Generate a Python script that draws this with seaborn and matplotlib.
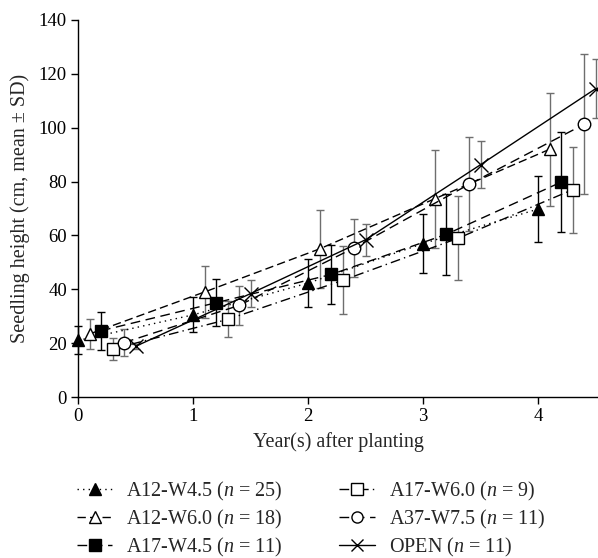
import matplotlib
matplotlib.use("Agg")
import matplotlib.pyplot as plt
import seaborn as sns
import pandas as pd
import numpy as np
from matplotlib.lines import Line2D

# ---- data ----
years = [0, 1, 2, 3, 4]
series_names = ["A12-W4.5", "A12-W6.0", "A17-W4.5", "A17-W6.0", "A37-W7.5", "OPEN"]
series_n = [25, 18, 11, 9, 11, 11]

a12_w45_mean = [21.0, 30.5, 42.3, 57.0, 69.8]
a12_w45_sd = [5.2, 6.5, 8.8, 11.0, 12.3]
a12_w60_mean = [23.4, 39.0, 55.0, 73.6, 92.0]
a12_w60_sd = [5.6, 9.8, 14.5, 18.3, 21.0]
a17_w45_mean = [24.6, 35.0, 45.5, 60.4, 79.8]
a17_w45_sd = [7.0, 8.7, 11.0, 15.0, 18.6]
a17_w60_mean = [17.8, 28.8, 43.3, 58.9, 77.0]
a17_w60_sd = [4.2, 6.7, 12.6, 15.6, 16.0]
a37_w75_mean = [20.2, 34.0, 55.4, 79.0, 101.3]
a37_w75_sd = [5.1, 7.4, 10.8, 17.5, 26.0]
open_mean = [18.8, 38.4, 58.4, 86.3, 114.5]
open_sd = [1.0, 5.0, 6.0, 8.7, 11.0]

means = [a12_w45_mean, a12_w60_mean, a17_w45_mean, a17_w60_mean, a37_w75_mean, open_mean]
sds = [a12_w45_sd, a12_w60_sd, a17_w45_sd, a17_w60_sd, a37_w75_sd, open_sd]

x_ticks = [0, 1, 2, 3, 4]
y_ticks = [0, 20, 40, 60, 80, 100, 120, 140]

# ---- styles ----
dodge_step = 0.1
styles = [
    dict(marker="^", mfc="black", ls=(0, (1, 3)), ms=9, ecol="black"),
    dict(marker="^", mfc="white", ls=(0, (6, 3)), ms=9, ecol="#6e6e6e"),
    dict(marker="s", mfc="black", ls=(0, (7, 4)), ms=9, ecol="black"),
    dict(marker="s", mfc="white", ls=(0, (7, 3, 1, 3)), ms=9, ecol="#6e6e6e"),
    dict(marker="o", mfc="white", ls=(0, (7, 4)), ms=9, ecol="#6e6e6e"),
    dict(marker="x", mfc="black", ls="-", ms=10, ecol="#6e6e6e"),
]

sns.set_theme(style="ticks")
plt.rcParams["font.family"] = ["Liberation Serif", "DejaVu Serif"]
plt.rcParams["mathtext.fontset"] = "custom"
plt.rcParams["mathtext.it"] = "Liberation Serif:italic"
plt.rcParams["mathtext.rm"] = "Liberation Serif"

fig = plt.figure(figsize=(5.98, 5.58), dpi=100)
ax = fig.add_axes([78 / 598, 161 / 558, 520 / 598, 377 / 558])

rows = []
for i, name in enumerate(series_names):
    for y, m, s in zip(years, means[i], sds[i]):
        rows.append(dict(series=name, x=y + i * dodge_step, mean=m, sd=s))
df = pd.DataFrame(rows)

handles = []
for i, name in enumerate(series_names):
    st = styles[i]
    sub = df[df.series == name]
    ax.errorbar(sub.x, sub["mean"], yerr=sub.sd, fmt="none", ecolor=st["ecol"],
                elinewidth=1.0, capsize=3, capthick=1.0, zorder=2, clip_on=False)
    sns.lineplot(data=sub, x="x", y="mean", ax=ax, color="black", linewidth=1.0,
                 linestyle=st["ls"], marker=st["marker"], markersize=st["ms"],
                 markerfacecolor=st["mfc"], markeredgecolor="black", markeredgewidth=1.0,
                 zorder=3, legend=False, clip_on=False)
    handles.append(Line2D([], [], color="black", lw=1.0, ls=st["ls"], marker=st["marker"],
                          ms=st["ms"] - 1, mfc=st["mfc"], mec="black", mew=1.0,
                          label=f"{name} ($n$ = {series_n[i]})"))

ax.set_xlim(0, 4.52)
ax.set_ylim(0, 140)
ax.set_xticks(x_ticks)
ax.set_yticks(y_ticks)
ax.tick_params(axis="both", direction="out", length=5, width=1, labelsize=13.5,
               colors="black", pad=3)
for sp in ["top", "right"]:
    ax.spines[sp].set_visible(False)
for sp in ["left", "bottom"]:
    ax.spines[sp].set_color("black")
    ax.spines[sp].set_linewidth(1.0)

ax.set_xlabel("Year(s) after planting", fontsize=14.5, labelpad=5)
ax.set_ylabel("Seedling height (cm, mean \u00b1 SD)", fontsize=14.5, labelpad=6)

fig.legend(handles=handles, loc="upper left", bbox_to_anchor=(77 / 598, 1 - 480 / 558),
           ncol=2, frameon=False, fontsize=14.5, handlelength=1.75, columnspacing=2.8,
           labelspacing=0.24, handletextpad=0.7, borderpad=0, borderaxespad=0)

fig.savefig("out.png", dpi=100)
